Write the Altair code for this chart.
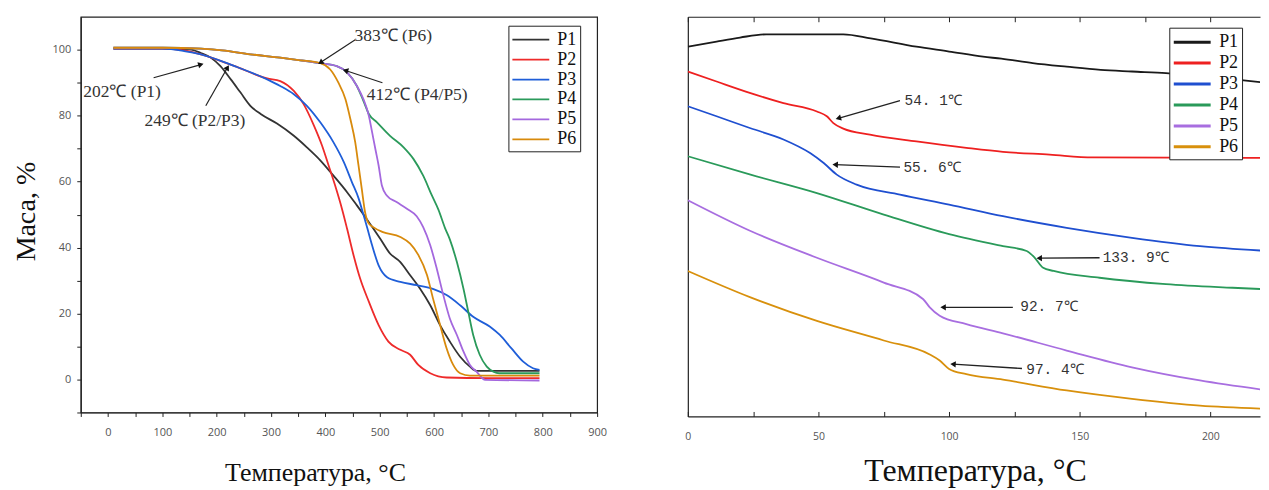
import math
import altair as alt
import pandas as pd

SERIES = ["P1", "P2", "P3", "P4", "P5", "P6"]
LEFT_COLORS = ["#333333", "#ee2b2b", "#1f5ed8", "#2b9a5b", "#a468de", "#d88a0c"]
RIGHT_COLORS = ["#1a1a1a", "#ee2020", "#1f4fd0", "#2a9a5a", "#a86ee0", "#d8900c"]
LEFT_WIDTHS = [1.8, 1.8, 2.8, 1.8, 1.8, 2.8]

# ---------------- left panel (TG curves) ----------------
L_P1_T = [10, 100, 150, 171, 189, 207, 226, 244, 262, 281, 311, 342, 366, 391, 415, 440, 458, 476, 501, 519, 538, 556, 574, 593, 611, 629, 648, 666, 678, 700, 794]
L_P1_M = [100.3, 100.3, 100.1, 99.0, 97.6, 95.0, 91.0, 87.0, 83.0, 80.5, 77.6, 73.9, 70.4, 66.4, 61.8, 56.8, 52.8, 48.7, 42.7, 38.2, 35.6, 31.6, 27.6, 22.5, 16.5, 11.5, 6.9, 3.9, 2.6, 2.6, 2.6]
L_P2_T = [10, 100, 140, 171, 232, 293, 317, 342, 360, 379, 394, 406, 418, 431, 440, 452, 464, 480, 498, 516, 538, 556, 571, 593, 623, 700, 794]
L_P2_M = [100.3, 100.3, 99.8, 98.6, 95.1, 91.3, 90.5, 87.5, 83.5, 77.0, 70.9, 64.9, 58.8, 51.5, 45.7, 37.6, 30.6, 23.6, 16.5, 11.5, 9.0, 7.5, 4.4, 1.9, 0.6, 0.4, 0.4]
L_P3_T = [10, 100, 140, 171, 232, 293, 317, 342, 366, 391, 415, 434, 449, 461, 470, 477, 486, 498, 513, 538, 568, 599, 623, 648, 672, 703, 721, 742, 764, 782, 794]
L_P3_M = [100.3, 100.3, 99.6, 98.6, 95.1, 91.0, 89.0, 86.5, 83.0, 77.9, 71.9, 65.9, 59.8, 55.0, 50.0, 46.0, 40.7, 34.6, 31.1, 29.6, 28.6, 27.4, 25.6, 22.5, 19.0, 16.0, 13.5, 9.5, 5.4, 3.4, 2.9]
L_P4_T = [10, 100, 171, 210, 262, 317, 354, 391, 421, 440, 458, 470, 480, 495, 519, 544, 562, 580, 596, 608, 620, 629, 642, 654, 663, 672, 684, 697, 709, 720, 794]
L_P4_M = [100.6, 100.6, 100.3, 99.8, 98.6, 97.6, 96.8, 95.9, 95.0, 93.1, 89.0, 84.5, 80.5, 78.0, 73.9, 70.4, 66.9, 61.8, 55.8, 51.5, 46.0, 42.5, 35.6, 27.6, 20.5, 13.5, 7.5, 3.9, 2.4, 1.9, 1.9]
L_P5_T = [10, 100, 171, 210, 262, 317, 354, 391, 421, 440, 458, 470, 480, 486, 492, 498, 504, 513, 531, 550, 568, 580, 593, 605, 617, 629, 642, 654, 666, 678, 694, 794]
L_P5_M = [100.6, 100.6, 100.3, 99.8, 98.6, 97.6, 96.8, 95.9, 95.0, 93.1, 89.0, 85.0, 80.0, 75.0, 69.9, 64.9, 58.8, 55.8, 53.8, 51.8, 49.5, 46.2, 40.7, 33.6, 25.6, 18.5, 13.5, 8.5, 4.4, 2.4, -0.1, -0.3]
L_P6_T = [10, 100, 171, 210, 262, 317, 354, 391, 409, 424, 437, 446, 455, 461, 467, 473, 479, 488, 506, 538, 556, 571, 587, 598, 611, 623, 635, 648, 666, 700, 794]
L_P6_M = [100.6, 100.6, 100.3, 99.8, 98.6, 97.6, 96.8, 95.9, 94.0, 90.0, 85.0, 79.0, 71.9, 64.9, 57.8, 50.8, 47.5, 46.2, 44.7, 43.2, 41.2, 37.8, 31.7, 24.6, 16.6, 9.5, 4.5, 1.9, 1.2, 1.2, 1.2]

L_NOTE_TEXT = ["202℃ (P1)", "249℃ (P2/P3)", "383℃ (P6)", "412℃ (P4/P5)"]
L_NOTE_T = [26, 160, 525, 569]
L_NOTE_M = [87.3, 78.5, 104.2, 86.4]
L_ARROW_T0 = [84, 180, 455, 505]
L_ARROW_M0 = [91.5, 83.0, 103.0, 90.0]
L_ARROW_T1 = [171, 220, 391, 437]
L_ARROW_M1 = [95.5, 94.6, 96.1, 93.7]

# ---------------- right panel (zoomed region) ----------------
R_P1_T = [0, 11, 20, 30, 59.5, 70, 87.5, 100, 113, 120, 132, 145, 158, 170, 183, 211, 222]
R_P1_V = [92.5, 93.8, 94.8, 95.6, 95.6, 94.6, 92.5, 91.3, 90.0, 89.5, 88.4, 87.5, 86.7, 86.3, 85.9, 84.2, 83.4]
R_P2_T = [0, 11, 24, 36.6, 49.4, 53.2, 55.7, 59.5, 69.7, 87.5, 106.6, 120.6, 138.5, 155, 222]
R_P2_V = [86.3, 83.8, 80.9, 78.4, 76.3, 75.1, 73.4, 72.0, 70.5, 68.8, 67.2, 66.2, 65.5, 64.8, 64.7]
R_P3_T = [0, 11, 24, 36.6, 46.8, 52, 57, 64.6, 81.2, 100, 120.6, 145, 170, 196, 222]
R_P3_V = [77.6, 75.1, 72.1, 69.3, 65.9, 63.4, 60.5, 58.0, 55.5, 53.0, 50.1, 47.2, 44.7, 42.6, 41.4]
R_P4_T = [0, 24, 49.4, 75, 100, 120.6, 129.7, 132.8, 136, 140, 157.6, 183, 208.5, 222]
R_P4_V = [65.1, 60.5, 55.9, 50.5, 45.6, 42.6, 41.4, 39.7, 37.2, 36.4, 34.7, 33.1, 32.2, 31.8]
R_P5_T = [0, 24, 49.4, 75, 90, 92.6, 96.4, 106.6, 120.6, 145, 170, 196, 222]
R_P5_V = [54.1, 46.4, 39.7, 33.5, 29.4, 27.3, 25.2, 23.1, 20.8, 16.5, 12.3, 9.0, 6.5]
R_P6_T = [0, 24, 49.4, 75, 92.6, 96.4, 100, 106.6, 120.6, 145, 170, 196, 222]
R_P6_V = [36.4, 29.8, 23.9, 19.0, 15.5, 14.0, 11.9, 10.6, 9.2, 6.5, 4.4, 2.7, 1.9]

R_NOTE_TEXT = ["54. 1℃", "55. 6℃", "133. 9℃", "92. 7℃", "97. 4℃"]
R_NOTE_T = [93.9, 93.5, 171.4, 138.2, 140.5]
R_NOTE_V = [78.8, 62.1, 39.7, 27.4, 11.7]
R_ARROW_T0 = [81.2, 81.2, 157.6, 124.4, 127.9]
R_ARROW_V0 = [79.0, 62.4, 39.7, 27.3, 12.0]
R_ARROW_T1 = [57.6, 56.4, 134.5, 97.7, 101.5]
R_ARROW_V1 = [74.6, 63.0, 39.6, 27.3, 13.1]

# ---------------- geometry / styles ----------------
LW, LH = 518, 397
L_XDOM, L_YDOM = [-50, 900], [-10, 110]
RW, RH = 574, 401
R_XDOM, R_YDOM = [0, 219], [0, 100]

SERIF = "Liberation Serif"
TICKFONT = "Open Sans"


def build_lines(series_t, series_v):
    rows = []
    for name, ts, vs in zip(SERIES, series_t, series_v):
        for t, v in zip(ts, vs):
            rows.append({"T": t, "v": v, "s": name})
    return pd.DataFrame(rows)


def build_notes(texts, tx, ty, t0, v0, t1, v1, xdom, ydom, w, h):
    sx = w / (xdom[1] - xdom[0])
    sy = h / (ydom[1] - ydom[0])
    rows = []
    for i in range(len(texts)):
        dx = (t1[i] - t0[i]) * sx
        dy = -(v1[i] - v0[i]) * sy
        ang = math.degrees(math.atan2(dx, -dy)) % 360
        rows.append({"label": texts[i], "T": tx[i], "v": ty[i],
                     "Ta": t0[i], "va": v0[i], "Tb": t1[i], "vb": v1[i], "ang": ang})
    return pd.DataFrame(rows)


left_df = build_lines([L_P1_T, L_P2_T, L_P3_T, L_P4_T, L_P5_T, L_P6_T],
                      [L_P1_M, L_P2_M, L_P3_M, L_P4_M, L_P5_M, L_P6_M])
right_df = build_lines([R_P1_T, R_P2_T, R_P3_T, R_P4_T, R_P5_T, R_P6_T],
                       [R_P1_V, R_P2_V, R_P3_V, R_P4_V, R_P5_V, R_P6_V])
left_notes = build_notes(L_NOTE_TEXT, L_NOTE_T, L_NOTE_M, L_ARROW_T0, L_ARROW_M0,
                         L_ARROW_T1, L_ARROW_M1, L_XDOM, L_YDOM, LW, LH)
right_notes = build_notes(R_NOTE_TEXT, R_NOTE_T, R_NOTE_V, R_ARROW_T0, R_ARROW_V0,
                          R_ARROW_T1, R_ARROW_V1, R_XDOM, R_YDOM, RW, RH)

legend_common = dict(
    title=None, orient="none", direction="vertical",
    symbolType="M-1,0H2.7", symbolSize=400, symbolStrokeWidth=3,
    labelFont=SERIF, labelFontSize=18, labelColor="#111",
    strokeColor="#222", fillColor="white", padding=3, rowPadding=-1, labelOffset=24,
)

# ---------- left encodings ----------
l_scale_x = alt.Scale(domain=L_XDOM, nice=False, zero=False)
l_scale_y = alt.Scale(domain=L_YDOM, nice=False, zero=False)
l_axis_x = alt.Axis(
    title="Температура, °С", values=list(range(-50, 901, 50)),
    labelExpr="datum.value % 100 === 0 && datum.value >= 0 ? datum.label : ''",
    grid=False, tickSize=4, tickColor="#222", domainColor="#222", domainWidth=1.2,
    labelFont=TICKFONT, labelFontSize=11, labelColor="#555", labelPadding=10, labelFlush=False,
    titleFont=SERIF, titleFontSize=26, titleFontWeight="normal", titleColor="#111",
    titlePadding=22, titleX=235, labelOverlap=False,
)
l_axis_y = alt.Axis(
    title="Маса, %", values=list(range(-10, 101, 10)),
    labelExpr="datum.value % 20 === 0 ? datum.label : ''",
    grid=False, tickSize=4, tickColor="#222", domainColor="#222", domainWidth=1.2,
    labelFont=TICKFONT, labelFontSize=11, labelColor="#555", labelPadding=6,
    titleFont=SERIF, titleFontSize=28, titleFontWeight="normal", titleColor="#111",
    titlePadding=12, titleY=195, labelOverlap=False,
)
lx = alt.X("T:Q", scale=l_scale_x, axis=l_axis_x)
ly = alt.Y("v:Q", scale=l_scale_y, axis=l_axis_y)

left_lines = alt.Chart(left_df).mark_line(interpolate="monotone", clip=True).encode(
    x=lx, y=ly,
    color=alt.Color("s:N", scale=alt.Scale(domain=SERIES, range=LEFT_COLORS),
                    legend=alt.Legend(legendX=429, legendY=9, **legend_common)),
    strokeWidth=alt.StrokeWidth("s:N", scale=alt.Scale(domain=SERIES, range=LEFT_WIDTHS), legend=None),
)
left_rules = alt.Chart(left_notes).mark_rule(color="#222", strokeWidth=1.2).encode(
    x=lx, y=ly, x2="Tb:Q", y2="vb:Q"
).transform_calculate(T="datum.Ta", v="datum.va")
left_heads = alt.Chart(left_notes).mark_point(shape="triangle-up", filled=True, size=40,
                                              color="#111", opacity=1).encode(
    x=alt.X("Tb:Q", scale=l_scale_x, axis=l_axis_x),
    y=alt.Y("vb:Q", scale=l_scale_y, axis=l_axis_y),
    angle=alt.Angle("ang:Q", scale=None),
)
left_text = alt.Chart(left_notes).mark_text(font=SERIF, fontSize=17.5, color="#333").encode(
    x=lx, y=ly, text="label:N"
)
left = alt.layer(left_lines, left_rules, left_heads, left_text).properties(
    width=LW, height=LH, view=alt.ViewBackground(stroke="#222", strokeWidth=1.2)
)

# ---------- right encodings ----------
r_scale_x = alt.Scale(domain=R_XDOM, nice=False, zero=False)
r_scale_y = alt.Scale(domain=R_YDOM, nice=False, zero=False)
r_axis_bottom = alt.Axis(
    title="Температура, °С", values=list(range(0, 220, 25)),
    labelExpr="datum.value % 50 === 0 ? datum.label : ''",
    grid=False, tickSize={"expr": "-5"}, tickColor="#222", domainColor="#222", domainWidth=1.2,
    labelFont=TICKFONT, labelFontSize=10.5, labelColor="#555", labelPadding=20, labelFlush=False,
    titleFont=SERIF, titleFontSize=32, titleFontWeight="normal", titleColor="#111",
    titlePadding=14, titleX=288, labelOverlap=False,
)
r_axis_top = alt.Axis(
    orient="top", title=None, values=list(range(0, 220, 25)), labels=False,
    grid=False, tickSize={"expr": "-5"}, tickColor="#222", domainColor="#222", domainWidth=1.2,
)
r_axis_y = alt.Axis(title=None, labels=False, ticks=False, grid=False,
                    domainColor="#222", domainWidth=1.2)
ry = alt.Y("v:Q", scale=r_scale_y, axis=r_axis_y)

right_lines = alt.Chart(right_df).mark_line(interpolate="monotone", clip=True, strokeWidth=1.8).encode(
    x=alt.X("T:Q", scale=r_scale_x, axis=r_axis_bottom), y=ry,
    color=alt.Color("s:N", scale=alt.Scale(domain=SERIES, range=RIGHT_COLORS),
                    legend=alt.Legend(legendX=483, legendY=11, **legend_common)),
)
right_rules = alt.Chart(right_notes).mark_rule(color="#222", strokeWidth=1.3).encode(
    x=alt.X("T:Q", scale=r_scale_x, axis=r_axis_top), y=ry, x2="Tb:Q", y2="vb:Q"
).transform_calculate(T="datum.Ta", v="datum.va")
right_heads = alt.Chart(right_notes).mark_point(shape="triangle-up", filled=True, size=40,
                                                color="#111", opacity=1).encode(
    x=alt.X("Tb:Q", scale=r_scale_x, axis=None),
    y=alt.Y("vb:Q", scale=r_scale_y, axis=r_axis_y),
    angle=alt.Angle("ang:Q", scale=None),
)
right_text = alt.Chart(right_notes).mark_text(font="Liberation Mono", fontSize=14.5, color="#333").encode(
    x=alt.X("T:Q", scale=r_scale_x, axis=None), y=ry, text="label:N"
)
right = alt.layer(right_lines, right_rules, right_heads, right_text).resolve_axis(
    x="independent"
).properties(width=RW, height=RH, view=alt.ViewBackground(stroke="transparent"))

chart = alt.hconcat(left, right, spacing=76).resolve_scale(
    color="independent", strokeWidth="independent"
).resolve_legend(color="independent").properties(
    padding={"left": 3, "top": 7, "right": 0, "bottom": 0}
).configure(background="white")

chart.save("out.html", embed_options={"renderer": "svg", "actions": False})
